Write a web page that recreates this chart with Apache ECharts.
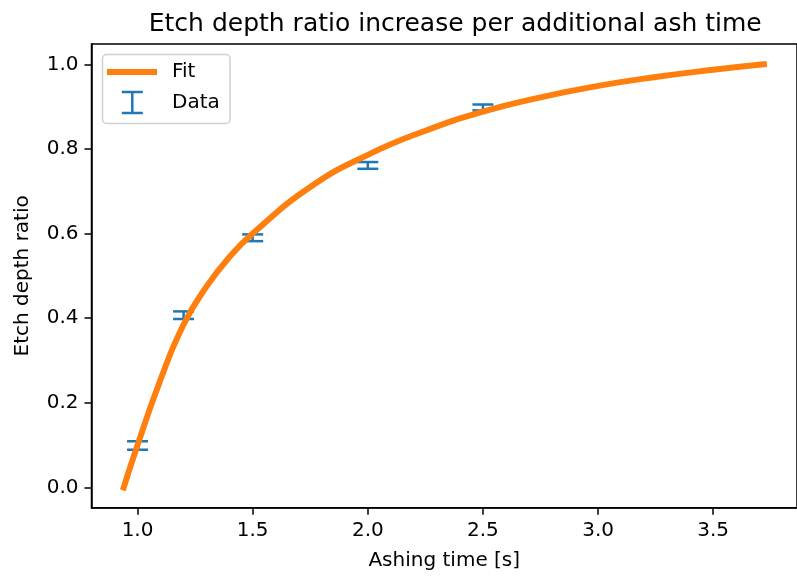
<!DOCTYPE html>
<html>
<head>
<meta charset="utf-8">
<script src="https://cdn.jsdelivr.net/npm/echarts@6/dist/echarts.min.js"></script>
<style>
  html, body { margin: 0; padding: 0; background: #ffffff; }
  #chart { width: 797px; height: 576px; }
</style>
</head>
<body>
<div id="chart"></div>
<script>
// Measured etch depth ratio per ashing time, with uncertainty
const ashTimes = [1.0, 1.2, 1.5, 2.0, 2.5];
const depthRatios = [0.099, 0.407, 0.590, 0.761, 0.898];
const depthErrors = [0.010, 0.009, 0.008, 0.008, 0.007];

// Fitted curve, sampled along the ashing time range
const fitTimes = [0.94, 1.0, 1.1, 1.2, 1.3, 1.4, 1.5, 1.75, 2.0, 2.25, 2.5, 2.75, 3.0, 3.25, 3.5, 3.72];
const fitRatios = [0.0, 0.10, 0.255, 0.385, 0.475, 0.545, 0.600, 0.710, 0.786, 0.843, 0.888, 0.922, 0.949, 0.970, 0.987, 1.0];

// Axis ticks
const xTicks = [1.0, 1.5, 2.0, 2.5, 3.0, 3.5];
const yTicks = [0.0, 0.2, 0.4, 0.6, 0.8, 1.0];

const FONT = '"DejaVu Sans", "Liberation Sans", sans-serif';
const BLUE = '#1f77b4';
const ORANGE = '#ff7f0e';

const chart = echarts.init(document.getElementById('chart'), null, { renderer: 'canvas' });

const fitData = fitTimes.map((t, i) => [t, fitRatios[i]]);
const errData = ashTimes.map((t, i) => [t, depthRatios[i], depthErrors[i]]);

// Vertical error bar with caps for each measurement
function renderErrorBar(params, api) {
  const x = api.value(0);
  const y = api.value(1);
  const e = api.value(2);
  const top = api.coord([x, y + e]);
  const bot = api.coord([x, y - e]);
  const cap = 10.5;
  const style = { stroke: BLUE, lineWidth: 2.5, fill: null };
  return {
    type: 'group',
    children: [
      { type: 'line', shape: { x1: top[0], y1: top[1], x2: bot[0], y2: bot[1] }, style: style },
      { type: 'line', shape: { x1: top[0] - cap, y1: top[1], x2: top[0] + cap, y2: top[1] }, style: style },
      { type: 'line', shape: { x1: bot[0] - cap, y1: bot[1], x2: bot[0] + cap, y2: bot[1] }, style: style }
    ]
  };
}

const option = {
  backgroundColor: '#ffffff',
  animation: false,
  textStyle: { fontFamily: FONT },
  title: {
    text: 'Etch depth ratio increase per additional ash time',
    left: 450.25,
    top: 7,
    textAlign: 'center',
    textStyle: { fontFamily: FONT, fontSize: 25, fontWeight: 'normal', color: '#000' }
  },
  grid: {
    left: 91.5, top: 44, width: 717.5, height: 463.7,
    show: true, borderColor: '#000', borderWidth: 1.5, backgroundColor: 'transparent'
  },
  xAxis: {
    type: 'value',
    min: 0.8, max: 3.864,
    name: 'Ashing time [s]',
    nameLocation: 'middle',
    nameGap: 43,
    nameTextStyle: { fontFamily: FONT, fontSize: 20, color: '#000' },
    axisLine: { show: true, onZero: false, lineStyle: { color: '#000', width: 1.5 } },
    axisTick: { show: true, length: 7, customValues: xTicks, lineStyle: { color: '#000', width: 1.5 } },
    axisLabel: {
      customValues: xTicks, margin: 13,
      formatter: v => v.toFixed(1),
      fontFamily: FONT, fontSize: 20, color: '#000'
    },
    splitLine: { show: false }
  },
  yAxis: {
    type: 'value',
    min: -0.048, max: 1.048,
    name: 'Etch depth ratio',
    nameLocation: 'middle',
    nameGap: 59,
    nameTextStyle: { fontFamily: FONT, fontSize: 20, color: '#000' },
    axisLine: { show: true, onZero: false, lineStyle: { color: '#000', width: 1.5 } },
    axisTick: { show: true, length: 7, customValues: yTicks, lineStyle: { color: '#000', width: 1.5 } },
    axisLabel: {
      customValues: yTicks, margin: 13,
      formatter: v => v.toFixed(1),
      fontFamily: FONT, fontSize: 20, color: '#000'
    },
    splitLine: { show: false }
  },
  series: [
    {
      name: 'Data',
      type: 'custom',
      renderItem: renderErrorBar,
      data: errData,
      encode: { x: 0, y: [1, 2] },
      clip: false,
      z: 2
    },
    {
      name: 'Fit',
      type: 'line',
      data: fitData,
      smooth: 0.5,
      showSymbol: false,
      symbol: 'none',
      lineStyle: { color: ORANGE, width: 6, cap: 'square', join: 'round' },
      z: 3
    }
  ],
  graphic: [
    {
      type: 'rect',
      shape: { x: 102.5, y: 54.5, width: 127.5, height: 69, r: 4 },
      style: { fill: 'rgba(255,255,255,0.8)', stroke: '#d0d0d0', lineWidth: 1.5 },
      z: 10
    },
    {
      type: 'line',
      shape: { x1: 110, y1: 72, x2: 154, y2: 72 },
      style: { stroke: ORANGE, lineWidth: 6, lineCap: 'square' },
      z: 11
    },
    {
      type: 'text',
      x: 172, y: 72,
      style: { text: 'Fit', font: '20px ' + FONT, fill: '#000', textVerticalAlign: 'middle', verticalAlign: 'middle' },
      z: 11
    },
    {
      type: 'line',
      shape: { x1: 132.3, y1: 92, x2: 132.3, y2: 113 },
      style: { stroke: BLUE, lineWidth: 2.5 },
      z: 11
    },
    {
      type: 'line',
      shape: { x1: 121.8, y1: 92, x2: 142.8, y2: 92 },
      style: { stroke: BLUE, lineWidth: 2.5 },
      z: 11
    },
    {
      type: 'line',
      shape: { x1: 121.8, y1: 113, x2: 142.8, y2: 113 },
      style: { stroke: BLUE, lineWidth: 2.5 },
      z: 11
    },
    {
      type: 'text',
      x: 172, y: 102.5,
      style: { text: 'Data', font: '20px ' + FONT, fill: '#000', textVerticalAlign: 'middle', verticalAlign: 'middle' },
      z: 11
    }
  ]
};

chart.setOption(option);
</script>
</body>
</html>
